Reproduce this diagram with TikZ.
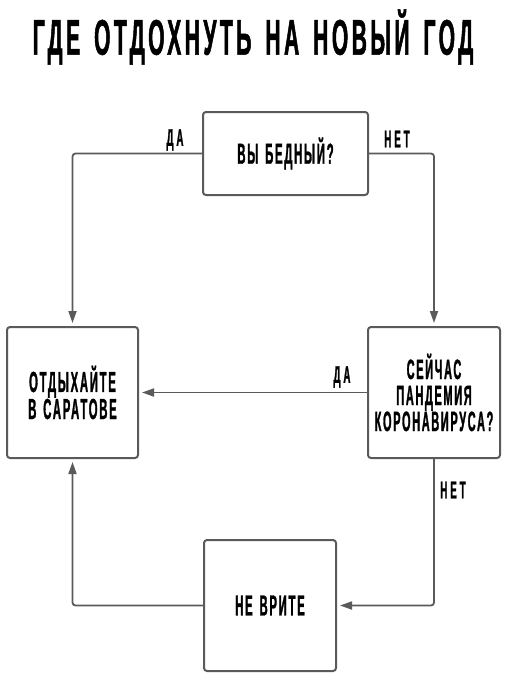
\documentclass[tikz,border=0pt]{standalone}
\usepackage{fontspec}
\usetikzlibrary{arrows.meta}
\newfontfamily\cfa[FakeStretch=0.39,LetterSpace=6,WordSpace=1.4,FakeBold=1]{Liberation Sans}
\newfontfamily\cfb[FakeStretch=0.41,LetterSpace=12,WordSpace=1.4,FakeBold=1]{Liberation Sans}
\newfontfamily\cft[FakeStretch=0.42,LetterSpace=7,WordSpace=1.5,FakeBold=1]{Liberation Sans}
\definecolor{ln}{HTML}{5A5A5A}
\tikzset{
  box/.style={draw=ln, line width=2pt, rounded corners=3pt, fill=white,
    align=center, inner sep=0pt, font=\cfa\bfseries\fontsize{29}{25.5}\selectfont},
  conn/.style={draw=ln, line width=1.8pt, rounded corners=3pt},
  arr/.style={conn, -{Triangle[length=12pt,width=8pt]}, shorten >=3pt},
  lbl/.style={font=\cfb\bfseries\fontsize{24}{24}\selectfont, inner sep=0pt},
  ttl/.style={font=\cft\bfseries\fontsize{50}{50}\selectfont, inner sep=0pt}
}
\begin{document}
\begin{tikzpicture}[x=1pt,y=-1pt]
\useasboundingbox (0,0) rectangle (506,680);
\node[ttl] (title) at (253,37) {ГДЕ ОТДОХНУТЬ НА НОВЫЙ ГОД};
\node[box, minimum width=165pt, minimum height=83pt] (top) at (285.5,153.5) {ВЫ БЕДНЫЙ?};
\node[box, minimum width=131pt, minimum height=131pt] (left) at (72.5,392.5) {ОТДЫХАЙТЕ\\В САРАТОВЕ};
\node[box, minimum width=132pt, minimum height=131pt, font=\cfa\bfseries\fontsize{28}{26}\selectfont] (right) at (434,392.5) {СЕЙЧАС\\ПАНДЕМИЯ\\КОРОНАВИРУСА?};
\node[box, minimum width=132pt, minimum height=131pt] (bottom) at (270,605.5) {НЕ ВРИТЕ};
\draw[arr] (top.west) -| (left.north);
\draw[arr] (top.east) -| (right.north);
\draw[arr] (right.west) -- (left.east);
\draw[arr] (right.south) |- (bottom.east);
\draw[arr] (bottom.west) -| (left.south);
\node[lbl] (l1) at (175,140) {ДА};
\node[lbl] (l2) at (397,139) {НЕТ};
\node[lbl] (l3) at (342,377) {ДА};
\node[lbl] (l4) at (453,490) {НЕТ};
\end{tikzpicture}
\end{document}
